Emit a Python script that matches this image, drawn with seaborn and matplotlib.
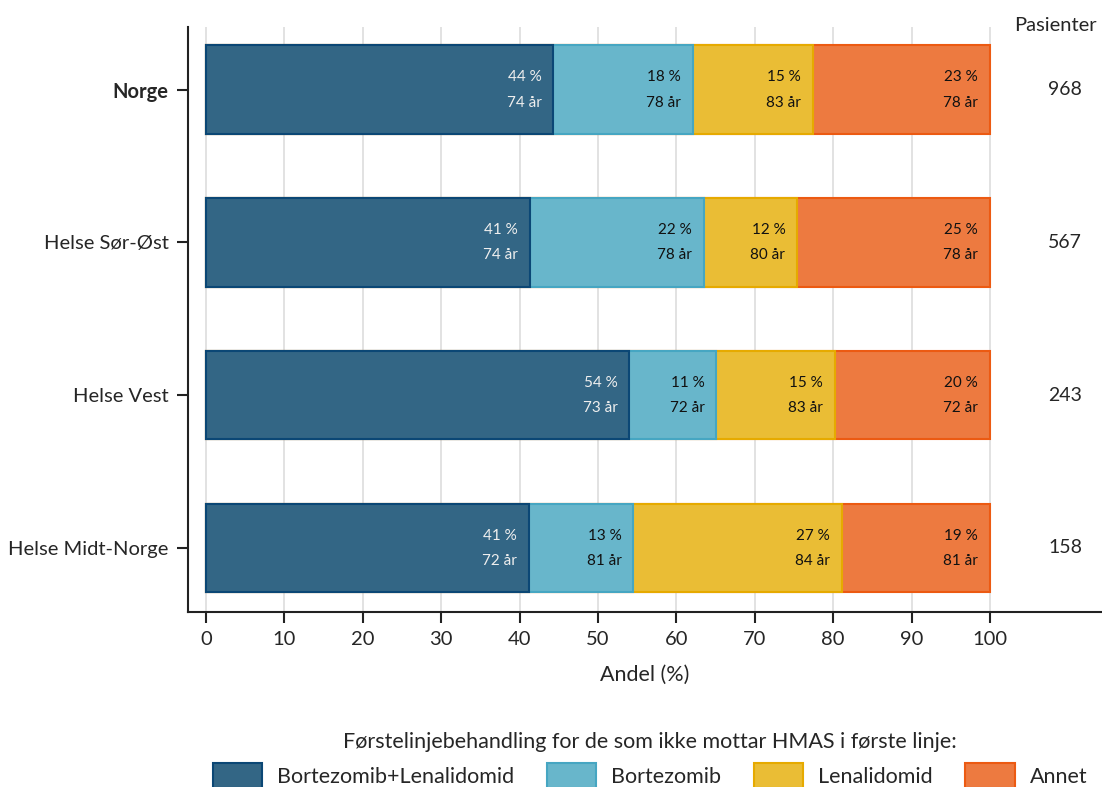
import matplotlib
matplotlib.use("Agg")
import matplotlib.pyplot as plt
import seaborn as sns
import pandas as pd
import numpy as np
from matplotlib.patches import Patch

# data
regions = ["Norge", "Helse Sør-Øst", "Helse Vest", "Helse Midt-Norge"]
treatments = ["Bortezomib+Lenalidomid", "Bortezomib", "Lenalidomid", "Annet"]
share_bl = [44.3, 41.3, 54.0, 41.2]
share_b = [17.8, 22.2, 11.1, 13.3]
share_l = [15.3, 11.9, 15.1, 26.6]
share_a = [22.6, 24.6, 19.8, 18.9]
age_bl = [74, 74, 73, 72]
age_b = [78, 78, 72, 81]
age_l = [83, 80, 83, 84]
age_a = [78, 78, 72, 81]
patients = [968, 567, 243, 158]

fills = ["#336685", "#68b6cb", "#eabd35", "#ed7a40"]
edges = ["#0b4775", "#46a6c2", "#e6aa00", "#ec5a12"]
text_cols = ["#eeeeee", "#111111", "#111111", "#111111"]

sns.set_theme(style="white")
plt.rcParams["font.family"] = ["Lato", "DejaVu Sans"]

shares = pd.DataFrame(dict(zip(treatments, [share_bl, share_b, share_l, share_a])), index=regions)
ages = pd.DataFrame(dict(zip(treatments, [age_bl, age_b, age_l, age_a])), index=regions)
cum = shares.cumsum(axis=1)

fig = plt.figure(figsize=(11.02, 7.87), dpi=100)
ax = fig.add_axes([0.1706, 0.2224, 0.8294, 0.7433])

# stacked bars: draw cumulative totals from the outermost layer inwards
for i in reversed(range(len(treatments))):
    t = treatments[i]
    df = pd.DataFrame({"region": regions, "val": cum[t].values})
    sns.barplot(data=df, x="val", y="region", orient="h", color=fills[i],
                saturation=1, width=0.58, edgecolor=edges[i], linewidth=1.5,
                ax=ax, zorder=2)

# value labels
for i, t in enumerate(treatments):
    for j, r in enumerate(regions):
        xr = cum.loc[r, t] - 1.5
        ax.text(xr, j - 0.08, f"{round(shares.loc[r, t])} %", ha="right", va="center",
                fontsize=11, color=text_cols[i], zorder=3)
        ax.text(xr, j + 0.085, f"{ages.loc[r, t]} år", ha="right", va="center",
                fontsize=11, color=text_cols[i], zorder=3)

# patient counts
for j, n in enumerate(patients):
    ax.text(109.6, j, str(n), ha="center", va="center", fontsize=14)
ax.text(108.4, -0.42, "Pasienter", ha="center", va="center", fontsize=14.5, clip_on=False)

ax.set_xlim(-2.3, 114.3)
ax.set_ylim(3.42, -0.41)
ax.set_xticks(range(0, 101, 10))
ax.xaxis.grid(True, color="#dddddd", linewidth=1.2, zorder=0)
ax.set_axisbelow(True)
ax.set_xlabel("Andel (%)", fontsize=15.5, labelpad=12)
ax.set_ylabel("")
ax.tick_params(axis="both", direction="out", length=8, width=1.5, color="#222222",
               labelsize=14.5, left=True, bottom=True, pad=6)
for s in ["top", "right"]:
    ax.spines[s].set_visible(False)
for s in ["left", "bottom"]:
    ax.spines[s].set_color("#222222")
    ax.spines[s].set_linewidth(1.5)
ax.get_yticklabels()[0].set_fontweight("bold")

handles = [Patch(facecolor=fills[i], edgecolor=edges[i], linewidth=1.5, label=t)
           for i, t in enumerate(treatments)]
leg = fig.legend(handles=handles, loc="lower center", bbox_to_anchor=(0.59, -0.026), ncol=4,
                 frameon=False, fontsize=15.5, title="Førstelinjebehandling for de som ikke mottar HMAS i første linje:",
                 title_fontsize=15.5, handlelength=2.3, handleheight=1.4, handletextpad=0.7,
                 columnspacing=1.5)

fig.savefig("out.png", dpi=100)
